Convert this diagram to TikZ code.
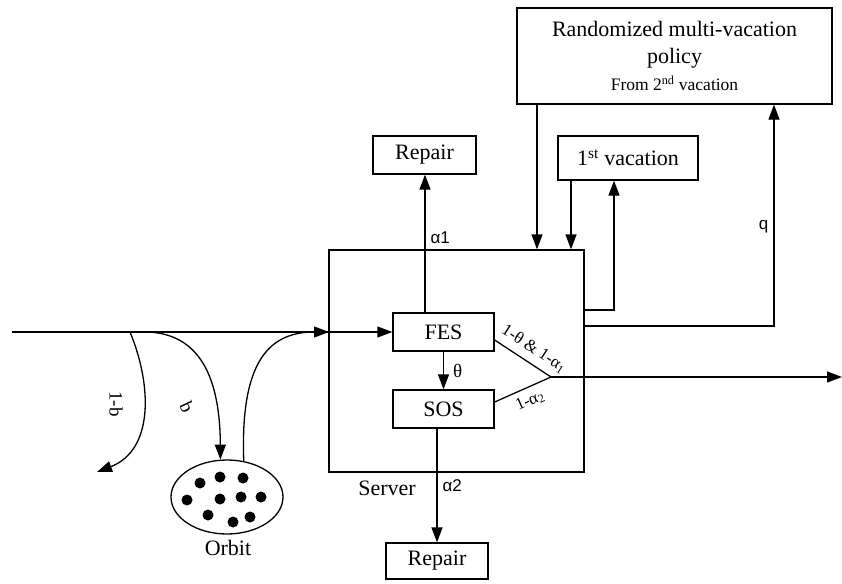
\documentclass[tikz,border=0pt]{standalone}
\usepackage{fontspec}
\setmainfont{Liberation Serif}
\newfontfamily\sansf{Liberation Sans}
\usetikzlibrary{arrows.meta,shapes.geometric}
\begin{document}
\begin{tikzpicture}[x=1pt,y=-1pt,
  line width=1.3pt,
  box/.style={draw,rectangle,inner sep=0pt,font=\fontsize{22}{25}\selectfont},
  arr/.style={-{Triangle[length=15pt,width=11pt]}},
  lbl/.style={font=\fontsize{19}{21}\selectfont,inner sep=1pt},
  slbl/.style={font=\sansf\fontsize{17}{19}\selectfont,inner sep=1pt},
  dot/.style={circle,fill,inner sep=0pt,minimum size=11pt}]
\useasboundingbox (0,0) rectangle (842,583);

% boxes
\node[box,minimum width=315pt,minimum height=96pt,align=center] (policy) at (674.5,56)
  {Randomized multi-vacation\\[2pt]policy\\[2pt]{\fontsize{17.5}{20}\selectfont From 2\textsuperscript{nd} vacation}};
\node[box,minimum width=103pt,minimum height=38pt] (repairT) at (424.5,155) {Repair};
\node[box,minimum width=140pt,minimum height=44pt] (vac) at (628,158) {1\textsuperscript{st} vacation};
\node[draw,rectangle,inner sep=0pt,minimum width=255pt,minimum height=222pt] (server) at (456.5,361) {};
\node[box,minimum width=101pt,minimum height=38pt] (fes) at (443.5,332) {FES};
\node[box,minimum width=101pt,minimum height=38pt] (sos) at (443.5,409) {SOS};
\node[box,minimum width=102pt,minimum height=36pt] (repairB) at (437,561) {Repair};
\node[draw,ellipse,inner sep=0pt,minimum width=112pt,minimum height=74pt] (orbit) at (227,497) {};

% dots in orbit
\foreach \p/\q [count=\i] in {200/483,220/477,243/478,187/500,220/499,241/497,261/497,208/515,233/522,250/517}
  \node[dot] (d\i) at (\p,\q) {};

% labels
\node[lbl,font=\fontsize{22}{24}\selectfont] (orbitlbl) at (228,548) {Orbit};
\node[lbl,font=\fontsize{22}{24}\selectfont] (serverlbl) at (387,488) {Server};

% coordinates
\coordinate (in) at (12,332);
\coordinate (apex) at (551,377);
\coordinate (out) at (842,377);
\coordinate (lost) at (97,472);
\coordinate (s1) at (130,332);
\coordinate (s2) at (140,332);
\coordinate (srvin) at (329,332);
\coordinate (v1) at (614,310);
\coordinate (v2) at (774,326);

% input line
\draw[arr] (in) -- (fes.west);
\draw[arr] (s1) .. controls (152,385) and (154,450) .. (lost);
\node[lbl,rotate=-90] (lbl1b) at (116,404) {1-b};
\draw[arr] (s2) .. controls (195,330) and (220,370) .. (orbit.100);
\node[lbl,rotate=-65] (lblb) at (187,407) {b};
\draw[arr] (orbit.65) .. controls (240,360) and (270,332) .. (srvin);

% server internals
\draw[arr] (fes.north -| 425,0) -- (repairT.south -| 425,0)
  node[pos=0.54,right=4pt,slbl] {α1};
\draw[arr] (fes.south) -- (sos.north) node[midway,right=8pt,lbl] {θ};
\draw ([yshift=-8pt]fes.east) -- (apex);
\node[lbl,font=\fontsize{17}{19}\selectfont,rotate=-33] (lblfes) at (534,349) {1-θ \& 1-α\textsubscript{1}};
\draw ([yshift=7pt]sos.east) -- (apex);
\node[lbl,font=\fontsize{17}{19}\selectfont,rotate=24] (lblsos) at (530,401) {1-α\textsubscript{2}};
\draw[arr] (apex) -- (out);
\draw[arr] (sos.south -| 437,0) -- (repairB.north)
  node[pos=0.5,right=4pt,slbl] {α2};

% vacations
\draw[arr] (policy.south -| 537,0) -- (server.north -| 537,0);
\draw[arr] (vac.south -| 571,0) -- (server.north -| 571,0);
\draw[arr] (server.east |- v1) -- (v1) -- (vac.south -| v1);
\draw[arr] (server.east |- v2) -- (v2) -- (policy.south -| v2)
  node[pos=0.45,left=4pt,slbl] {q};
\end{tikzpicture}
\end{document}
